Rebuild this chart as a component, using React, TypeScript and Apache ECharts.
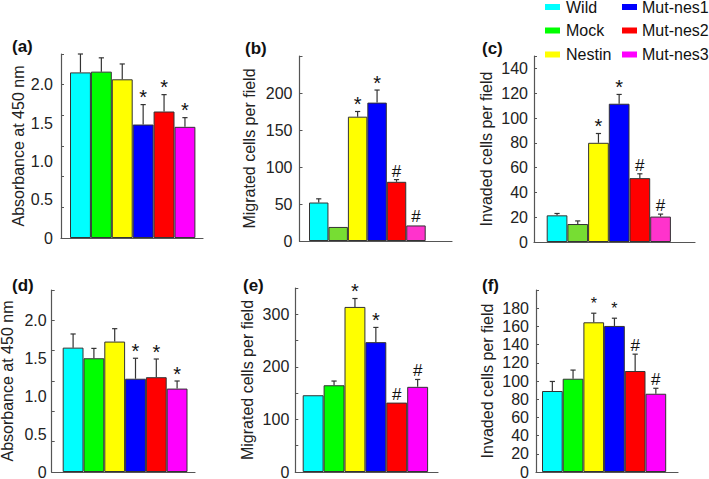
import React, { useEffect, useRef } from 'react';
import * as echarts from 'echarts';

const categories = ['Wild', 'Mock', 'Nestin', 'Mut-nes1', 'Mut-nes2', 'Mut-nes3'];
const colorsBright = ['#00ffff', '#00ff00', '#ffff00', '#0000ff', '#ff0000', '#ff00ff'];
const colorsSoft = ['#00ffff', '#77dd33', '#ffff00', '#0000ff', '#ff0000', '#ff33cc'];

const panelLabels = ['(a)', '(b)', '(c)', '(d)', '(e)', '(f)'];
const yTitles = [
  'Absorbance at 450 nm',
  'Migrated cells per field',
  'Invaded cells per field',
  'Absorbance at 450 nm',
  'Migrated cells per field',
  'Invaded cells per field',
];

// (a) proliferation
const valuesA = [2.16, 2.17, 2.07, 1.48, 1.65, 1.45];
const errorsA = [0.24, 0.18, 0.2, 0.26, 0.22, 0.12];
const marksA = ['', '', '', '*', '*', '*'];
// (b) migration
const valuesB = [52, 19, 168, 187, 80, 21];
const errorsB = [5, 0, 7, 17, 3, 0];
const marksB = ['', '', '*', '*', '#', '#'];
// (c) invasion
const valuesC = [21.5, 14.5, 80, 111.5, 51.5, 20.5];
const errorsC = [1.5, 2.5, 7.5, 7.5, 3.5, 2];
const marksC = ['', '', '*', '*', '#', '#'];
// (d) proliferation
const valuesD = [1.64, 1.5, 1.72, 1.23, 1.25, 1.1];
const errorsD = [0.18, 0.13, 0.17, 0.27, 0.24, 0.1];
const marksD = ['', '', '', '*', '*', '*'];
// (e) migration
const valuesE = [146, 165, 314, 247, 132, 162];
const errorsE = [0, 8, 16, 28, 0, 14];
const marksE = ['', '', '*', '*', '#', '#'];
// (f) invasion
const valuesF = [89, 102.5, 164.5, 160.5, 111, 86];
const errorsF = [10.5, 9.5, 10, 8.5, 18.5, 6];
const marksF = ['', '', '*', '*', '#', '#'];

const allValues = [valuesA, valuesB, valuesC, valuesD, valuesE, valuesF];
const allErrors = [errorsA, errorsB, errorsC, errorsD, errorsE, errorsF];
const allMarks = [marksA, marksB, marksC, marksD, marksE, marksF];

const FONT = 'Liberation Sans, Arial, Helvetica, sans-serif';

const layouts = [
  { x0: 61, x1: 203, yTop: 54, yBase: 238, barStart: 70, bw: 20.9, max: 2.4, labelStep: 0.5, tickStep: 0.4, nameGap: 35, labelMargin: 8, dec: 1, colors: colorsBright, starFont: 20, starOff: 7.5, lab: [12, 46] },
  { x0: 299.5, x1: 452, yTop: 56, yBase: 241, barStart: 309, bw: 19.45, max: 250, labelStep: 50, tickStep: 50, nameGap: 42, labelMargin: 7, dec: 0, colors: colorsSoft, starFont: 20, starOff: 7.5, lab: [245, 48] },
  { x0: 534, x1: 695, yTop: 56, yBase: 242, barStart: 546.7, bw: 20.7, max: 150, labelStep: 20, tickStep: 20, nameGap: 40, labelMargin: 6, dec: 0, colors: colorsSoft, starFont: 20, starOff: 7.5, lab: [482, 48] },
  { x0: 51.7, x1: 195, yTop: 290, yBase: 472, barStart: 62.7, bw: 20.8, max: 2.4, labelStep: 0.5, tickStep: 0.4, nameGap: 36, labelMargin: 5, dec: 1, colors: colorsBright, starFont: 20, starOff: 7.5, lab: [12, 285] },
  { x0: 295.3, x1: 438, yTop: 288, yBase: 472, barStart: 302.7, bw: 20.9, max: 350, labelStep: 100, tickStep: 50, nameGap: 40, labelMargin: 6, dec: 0, colors: colorsBright, starFont: 20, starOff: 7.5, lab: [243, 285] },
  { x0: 536, x1: 678, yTop: 290, yBase: 472, barStart: 542, bw: 20.7, max: 200, labelStep: 20, tickStep: 20, nameGap: 41, labelMargin: 7, dec: 0, colors: colorsBright, starFont: 16, starOff: 10, lab: [482, 285] },
];

const legendColX = [545, 622];
const legendTextX = [566, 642];
const legendRowY = [7, 30.5, 54.5];

function buildOption() {
  const grid: any[] = [];
  const xAxis: any[] = [];
  const yAxis: any[] = [];
  const series: any[] = [];
  const graphic: any[] = [];

  layouts.forEach((l, i) => {
    const off = (l.barStart - l.x0) / l.bw;
    grid.push({
      left: l.x0,
      top: l.yTop,
      width: l.x1 - l.x0,
      height: l.yBase - l.yTop,
      containLabel: false,
      outerBoundsMode: 'none',
    });
    xAxis.push({
      type: 'value',
      gridIndex: i,
      min: 0,
      max: (l.x1 - l.x0) / l.bw,
      axisLine: { show: true, onZero: false, lineStyle: { color: '#555', width: 1.2 } },
      axisTick: { show: false },
      axisLabel: { show: false },
      splitLine: { show: false },
    });
    yAxis.push({
      type: 'value',
      gridIndex: i,
      min: 0,
      max: l.max,
      interval: l.labelStep,
      name: yTitles[i],
      nameLocation: 'middle',
      nameGap: l.nameGap,
      nameMoveOverlap: false,
      nameTextStyle: { fontSize: 16, color: '#222', fontFamily: FONT },
      axisLine: { show: true, onZero: false, lineStyle: { color: '#555', width: 1.2 } },
      axisTick: { show: false },
      axisLabel: {
        fontSize: 16,
        color: '#222',
        fontFamily: FONT,
        margin: l.labelMargin,
        showMaxLabel: false,
        formatter: (v: number) => (v === 0 ? '0' : v.toFixed(l.dec)),
      },
      splitLine: { show: false },
    });
    yAxis.push({
      type: 'value',
      gridIndex: i,
      min: 0,
      max: l.max,
      interval: l.tickStep,
      axisLine: { show: false },
      axisLabel: { show: false },
      axisTick: { show: true, length: 3, lineStyle: { color: '#555', width: 1 } },
      splitLine: { show: false },
    });

    const vals = allValues[i];
    const errs = allErrors[i];
    const marks = allMarks[i];

    series.push({
      type: 'bar',
      xAxisIndex: i,
      yAxisIndex: 2 * i,
      barWidth: l.bw,
      silent: true,
      itemStyle: { borderColor: '#333', borderWidth: 1 },
      data: vals.map((v, j) => ({
        value: [off + j + 0.5, v],
        itemStyle: { color: l.colors[j] },
      })),
    });

    series.push({
      type: 'custom',
      xAxisIndex: i,
      yAxisIndex: 2 * i,
      silent: true,
      clip: false,
      z: 5,
      encode: { x: 0, y: 1 },
      data: vals.map((v, j) => [off + j + 0.5, v, errs[j]]),
      renderItem: (params: any, api: any) => {
        const x = api.value(0);
        const v = api.value(1);
        const e = api.value(2);
        const p0 = api.coord([x, v]);
        const p1 = api.coord([x, v + e]);
        const children: any[] = [];
        if (e > 0) {
          children.push({
            type: 'line',
            shape: { x1: p0[0], y1: p0[1], x2: p1[0], y2: p1[1] },
            style: { stroke: '#333', lineWidth: 1.2 },
          });
          children.push({
            type: 'line',
            shape: { x1: p1[0] - 2.6, y1: p1[1], x2: p1[0] + 2.6, y2: p1[1] },
            style: { stroke: '#333', lineWidth: 1.2 },
          });
        }
        const m = marks[params.dataIndex];
        if (m) {
          const isStar = m === '*';
          children.push({
            type: 'text',
            x: p1[0],
            y: p1[1] - (isStar ? l.starOff : 8.5),
            style: {
              text: m,
              fontSize: isStar ? l.starFont : 17,
              fontFamily: FONT,
              fill: '#111',
              align: 'center',
              verticalAlign: 'middle',
            },
          });
        }
        return { type: 'group', children };
      },
    });

    graphic.push({
      type: 'text',
      x: l.lab[0],
      y: l.lab[1],
      style: {
        text: panelLabels[i],
        fontSize: 17,
        fontWeight: 'bold',
        fontFamily: FONT,
        fill: '#111',
        verticalAlign: 'middle',
      },
    });
  });

  categories.forEach((c, i) => {
    const col = Math.floor(i / 3);
    const row = i % 3;
    graphic.push({
      type: 'rect',
      x: legendColX[col],
      y: legendRowY[row] - 3,
      shape: { x: 0, y: 0, width: 15, height: 6 },
      style: { fill: colorsBright[i] },
    });
    graphic.push({
      type: 'text',
      x: legendTextX[col],
      y: legendRowY[row],
      style: {
        text: c,
        fontSize: 16,
        fontFamily: FONT,
        fill: '#111',
        verticalAlign: 'middle',
      },
    });
  });

  return {
    animation: false,
    backgroundColor: '#ffffff',
    grid,
    xAxis,
    yAxis,
    series,
    graphic,
  };
}

export default function App() {
  const ref = useRef<HTMLDivElement>(null);
  useEffect(() => {
    if (!ref.current) return;
    const chart = echarts.init(ref.current, undefined, { renderer: 'svg' });
    chart.setOption(buildOption() as any);
    return () => chart.dispose();
  }, []);
  return (
    <div
      ref={ref}
      style={{ position: 'fixed', left: 0, top: 0, width: 709, height: 479, background: '#fff' }}
    />
  );
}
